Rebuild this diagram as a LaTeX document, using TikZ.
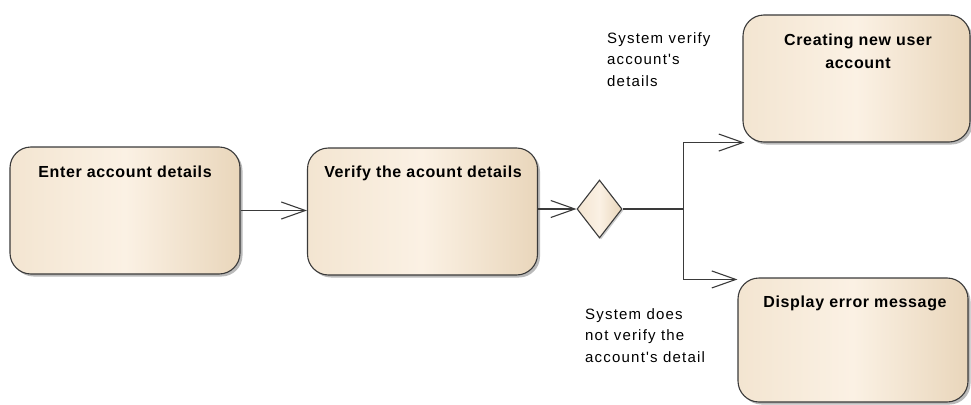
\documentclass[tikz,border=0pt]{standalone}
\usepackage{fontspec}
\setmainfont{Liberation Sans}
\newfontfamily\titlefont[LetterSpace=4]{Liberation Sans}
\newfontfamily\guardfont[LetterSpace=8]{Liberation Sans}
\usetikzlibrary{shapes.geometric,shadows,arrows.meta}
\definecolor{boxleft}{HTML}{F3E5D1}
\definecolor{boxmid}{HTML}{FBF1E4}
\definecolor{boxright}{HTML}{E9D6BB}
\definecolor{linegray}{HTML}{3A3A3A}
\begin{document}
\begin{tikzpicture}[x=1pt,y=-1pt,
    activity/.style={draw=linegray, line width=1.1pt, rounded corners=21pt,
        left color=boxleft, right color=boxright, middle color=boxmid,
        minimum width=230pt, minimum height=127pt, inner sep=0pt,
        drop shadow={shadow xshift=2.5pt, shadow yshift=-2.5pt, fill=black!45, opacity=.6}},
    decision/.style={diamond, draw=linegray, line width=1.1pt, inner sep=0pt,
        left color=boxleft, right color=boxright, middle color=boxmid,
        minimum width=45pt, minimum height=58pt,
        drop shadow={shadow xshift=1.5pt, shadow yshift=-1.5pt, fill=black!40, opacity=.5}},
    title/.style={font=\titlefont\fontsize{16}{23}\selectfont\bfseries, align=center, inner sep=0pt},
    guard/.style={font=\guardfont\fontsize{15}{21.5}\selectfont, align=left, inner sep=0pt, anchor=north west},
    flow/.style={draw=linegray, line width=1.1pt, ->, >={Straight Barb[length=24pt,width=17pt]}}]
    \useasboundingbox (0,0) rectangle (971,404);

    \node[activity] (enter) at (125,210.5) {};
    \node[activity] (verify) at (422.5,211.5) {};
    \node[decision] (dec) at (599.5,209) {};
    \node[activity, minimum width=227pt] (create) at (856.5,78.5) {};
    \node[activity, minimum height=124pt] (display) at (853,340) {};

    \node[title] (entertxt) at (125,172) {Enter account details};
    \node[title] (verifytxt) at (423,173) {Verify the acount details};
    \node[title] (createtxt) at (858,51.5) {Creating new user\\account};
    \node[title] (displaytxt) at (855,303) {Display error message};

    \node[guard] (okguard) at (607,32) {System verify\\account's\\details};
    \node[guard] (noguard) at (585,308) {System does\\not verify the\\account's detail};

    \coordinate (split) at ([xshift=60.5pt]dec.east);

    \draw[flow] (enter.east) -- (enter.east -| verify.west);
    \draw[flow] (verify.east |- dec.west) -- (dec.west);
    \draw[flow] (dec.east) -- (split) |- ([xshift=2pt]create.south west);
    \draw[flow] (split) |- ([yshift=-2pt]display.north west);
\end{tikzpicture}
\end{document}
